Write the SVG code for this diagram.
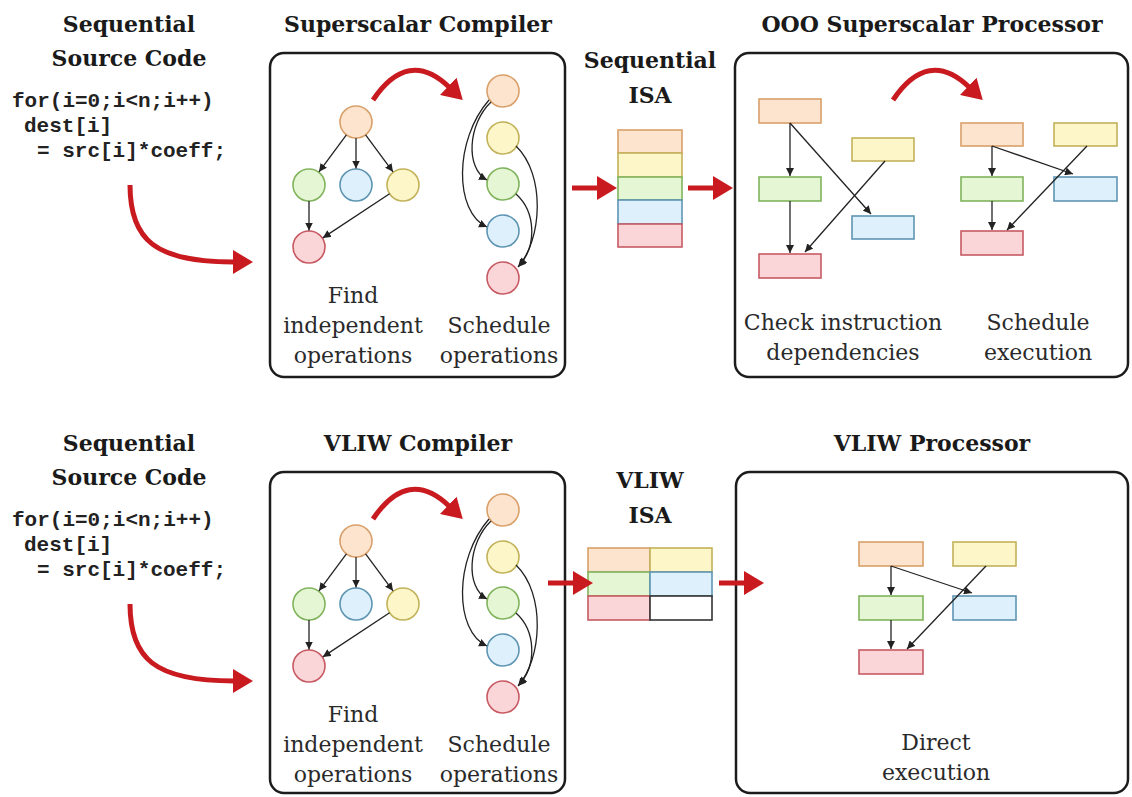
<svg xmlns="http://www.w3.org/2000/svg" width="1132" height="797" viewBox="0 0 1132 797">
<defs>
<style>
.bg{fill:#ffffff}
.box{fill:#ffffff;stroke:#1c1c1c;stroke-width:2.5}
.o{fill:#fde4cf;stroke:#d9a06a;stroke-width:1.6}
.y{fill:#fdf6c9;stroke:#c2b25a;stroke-width:1.6}
.g{fill:#e4f6d3;stroke:#80b35c;stroke-width:1.6}
.b{fill:#def0fb;stroke:#5e95b3;stroke-width:1.6}
.r{fill:#fbd6d9;stroke:#c75a63;stroke-width:1.6}
.w{fill:#ffffff;stroke:#333333;stroke-width:1.6}
.t{font-family:"DejaVu Serif","Liberation Serif",serif;font-size:22px;fill:#2a2a2a;text-anchor:middle}
.h{font-family:"DejaVu Serif","Liberation Serif",serif;font-size:22px;font-weight:bold;fill:#1a1a1a;text-anchor:middle}
.code{font-family:"Liberation Mono","DejaVu Sans Mono",monospace;font-size:21px;font-weight:bold;fill:#222222}
.k{fill:none;stroke:#222222;stroke-width:1.3;marker-end:url(#ah)}
.red{fill:none;stroke:#c81a1f;stroke-width:5;marker-end:url(#rh)}
</style>
<marker id="ah" markerUnits="userSpaceOnUse" markerWidth="8" markerHeight="8" viewBox="0 0 8 8" refX="8" refY="4" orient="auto">
<path d="M0,0 L8,4 L0,8 z" fill="#222222"/>
</marker>
<marker id="rh" markerUnits="userSpaceOnUse" markerWidth="20" markerHeight="24" viewBox="0 0 20 24" refX="1" refY="12" orient="auto">
<path d="M0,0 L20,12 L0,24 z" fill="#c81a1f"/>
</marker>
</defs>
<rect class="bg" x="0" y="0" width="1132" height="797"/>

<!-- ================= TOP ROW ================= -->
<g id="top-source">
<text class="h" x="129" y="32">Sequential</text>
<text class="h" x="129" y="66">Source Code</text>
<text class="code" x="12" y="107">for(i=0;i&lt;n;i++)</text>
<text class="code" x="24" y="132">dest[i]</text>
<text class="code" x="37" y="157">= src[i]*coeff;</text>
</g>

<g id="top-compiler">
<text class="h" x="418" y="32">Superscalar Compiler</text>
<rect class="box" x="270" y="53" width="295" height="324" rx="14"/>
<g id="top-dep-graph">
<circle class="o" cx="356" cy="122" r="16"/>
<circle class="g" cx="309" cy="185" r="16"/>
<circle class="b" cx="356" cy="185" r="16"/>
<circle class="y" cx="403" cy="185" r="16"/>
<circle class="r" cx="309" cy="247" r="16"/>
</g>
<g id="top-sched-col">
<circle class="o" cx="503" cy="91" r="16"/>
<circle class="y" cx="503" cy="138" r="16"/>
<circle class="g" cx="503" cy="184" r="16"/>
<circle class="b" cx="503" cy="231" r="16"/>
<circle class="r" cx="503" cy="278" r="16"/>
</g>
<text class="t" x="353" y="303">Find</text>
<text class="t" x="353" y="333">independent</text>
<text class="t" x="353" y="363">operations</text>
<text class="t" x="499" y="333">Schedule</text>
<text class="t" x="499" y="363">operations</text>
</g>

<g id="top-isa">
<text class="h" x="650" y="68">Sequential</text>
<text class="h" x="650" y="103">ISA</text>
<rect class="o" x="618" y="130" width="64" height="23"/>
<rect class="y" x="618" y="153" width="64" height="24"/>
<rect class="g" x="618" y="177" width="64" height="23"/>
<rect class="b" x="618" y="200" width="64" height="24"/>
<rect class="r" x="618" y="224" width="64" height="23"/>
</g>

<g id="top-processor">
<text class="h" x="932" y="32">OOO Superscalar Processor</text>
<rect class="box" x="735" y="53" width="393" height="324" rx="14"/>
<g id="top-check">
<rect class="o" x="759" y="99" width="62" height="24"/>
<rect class="g" x="759" y="177" width="62" height="24"/>
<rect class="r" x="759" y="254" width="62" height="24"/>
<rect class="y" x="852" y="138" width="62" height="23"/>
<rect class="b" x="852" y="216" width="62" height="23"/>
</g>
<g id="top-exec">
<rect class="o" x="961" y="123" width="62" height="23"/>
<rect class="y" x="1054" y="123" width="63" height="23"/>
<rect class="g" x="961" y="177" width="62" height="24"/>
<rect class="b" x="1054" y="177" width="63" height="24"/>
<rect class="r" x="961" y="231" width="62" height="24"/>
</g>
<text class="t" x="843" y="330">Check instruction</text>
<text class="t" x="843" y="360">dependencies</text>
<text class="t" x="1038" y="330">Schedule</text>
<text class="t" x="1038" y="360">execution</text>
</g>

<!-- ================= BOTTOM ROW ================= -->
<g id="bottom-source">
<text class="h" x="129" y="451">Sequential</text>
<text class="h" x="129" y="485">Source Code</text>
<text class="code" x="12" y="526">for(i=0;i&lt;n;i++)</text>
<text class="code" x="24" y="551">dest[i]</text>
<text class="code" x="37" y="576">= src[i]*coeff;</text>
</g>

<g id="bottom-compiler">
<text class="h" x="418" y="451">VLIW Compiler</text>
<rect class="box" x="270" y="472" width="295" height="321" rx="14"/>
<g id="bottom-dep-graph">
<circle class="o" cx="356" cy="541" r="16"/>
<circle class="g" cx="309" cy="604" r="16"/>
<circle class="b" cx="356" cy="604" r="16"/>
<circle class="y" cx="403" cy="604" r="16"/>
<circle class="r" cx="309" cy="666" r="16"/>
</g>
<g id="bottom-sched-col">
<circle class="o" cx="503" cy="510" r="16"/>
<circle class="y" cx="503" cy="557" r="16"/>
<circle class="g" cx="503" cy="603" r="16"/>
<circle class="b" cx="503" cy="650" r="16"/>
<circle class="r" cx="503" cy="697" r="16"/>
</g>
<text class="t" x="353" y="722">Find</text>
<text class="t" x="353" y="752">independent</text>
<text class="t" x="353" y="782">operations</text>
<text class="t" x="499" y="752">Schedule</text>
<text class="t" x="499" y="782">operations</text>
</g>

<g id="bottom-isa">
<text class="h" x="650" y="488">VLIW</text>
<text class="h" x="650" y="523">ISA</text>
<rect class="o" x="588" y="548" width="62" height="24"/>
<rect class="y" x="650" y="548" width="62" height="24"/>
<rect class="g" x="588" y="572" width="62" height="24"/>
<rect class="b" x="650" y="572" width="62" height="24"/>
<rect class="r" x="588" y="596" width="62" height="24"/>
<rect class="w" x="650" y="596" width="62" height="24"/>
</g>

<g id="bottom-processor">
<text class="h" x="932" y="451">VLIW Processor</text>
<rect class="box" x="736" y="472" width="392" height="321" rx="14"/>
<g id="bottom-exec">
<rect class="o" x="859" y="542" width="64" height="24"/>
<rect class="y" x="953" y="542" width="63" height="24"/>
<rect class="g" x="859" y="596" width="64" height="24"/>
<rect class="b" x="953" y="596" width="63" height="24"/>
<rect class="r" x="859" y="650" width="64" height="24"/>
</g>
<text class="t" x="936" y="750">Direct</text>
<text class="t" x="936" y="780">execution</text>
</g>

<!-- ================= CONNECTORS ================= -->
<g id="connectors">
<!-- top dependency graph -->
<line class="k" x1="346.4" y1="134.8" x2="319" y2="171.8"/>
<line class="k" x1="356" y1="138" x2="356" y2="168.5"/>
<line class="k" x1="365.6" y1="134.8" x2="393" y2="171.8"/>
<line class="k" x1="309" y1="201" x2="309" y2="230.5"/>
<line class="k" x1="389.6" y1="193.8" x2="322.8" y2="237.9"/>
<!-- top schedule column -->
<path class="k" d="M491,102 C468,124 465,168 487,180"/>
<path class="k" d="M489,100 C454,140 454,212 487,227"/>
<path class="k" d="M516,146 C546,175 542,240 518,267"/>
<path class="k" d="M516,194 C536,212 537,246 519,266"/>
<!-- top processor -->
<line class="k" x1="790" y1="123" x2="790" y2="176"/>
<line class="k" x1="790" y1="201" x2="790" y2="253"/>
<line class="k" x1="790" y1="123" x2="871" y2="214"/>
<line class="k" x1="885" y1="161" x2="805" y2="252"/>
<line class="k" x1="992" y1="146" x2="992" y2="176"/>
<line class="k" x1="992" y1="146" x2="1073" y2="174"/>
<line class="k" x1="992" y1="201" x2="992" y2="230"/>
<line class="k" x1="1087" y1="146" x2="1007" y2="230"/>

<!-- bottom dependency graph -->
<line class="k" x1="346.4" y1="553.8" x2="319" y2="590.8"/>
<line class="k" x1="356" y1="557" x2="356" y2="587.5"/>
<line class="k" x1="365.6" y1="553.8" x2="393" y2="590.8"/>
<line class="k" x1="309" y1="620" x2="309" y2="649.5"/>
<line class="k" x1="389.6" y1="612.8" x2="322.8" y2="656.9"/>
<!-- bottom schedule column -->
<path class="k" d="M491,521 C468,543 465,587 487,599"/>
<path class="k" d="M489,519 C454,559 454,631 487,646"/>
<path class="k" d="M516,565 C546,594 542,659 518,686"/>
<path class="k" d="M516,613 C536,631 537,665 519,685"/>
<!-- bottom processor -->
<line class="k" x1="891" y1="566" x2="891" y2="595"/>
<line class="k" x1="891" y1="620" x2="891" y2="649"/>
<line class="k" x1="891" y1="566" x2="972" y2="593"/>
<line class="k" x1="986" y1="566" x2="907" y2="649"/>

<!-- red flow arrows, top -->
<path class="red" d="M130,185 C130,240 155,262 234,262"/>
<path class="red" d="M373,100 Q408,48 449,87"/>
<line class="red" x1="572" y1="188" x2="598" y2="188"/>
<line class="red" x1="688" y1="188" x2="714" y2="188"/>
<path class="red" d="M893,100 Q928,48 969,87"/>
<!-- red flow arrows, bottom -->
<path class="red" d="M130,604 C130,659 155,681 234,681"/>
<path class="red" d="M373,519 Q408,467 449,506"/>
<line class="red" x1="548" y1="583" x2="574" y2="583"/>
<line class="red" x1="719" y1="583" x2="745" y2="583"/>
</g>
</svg>
